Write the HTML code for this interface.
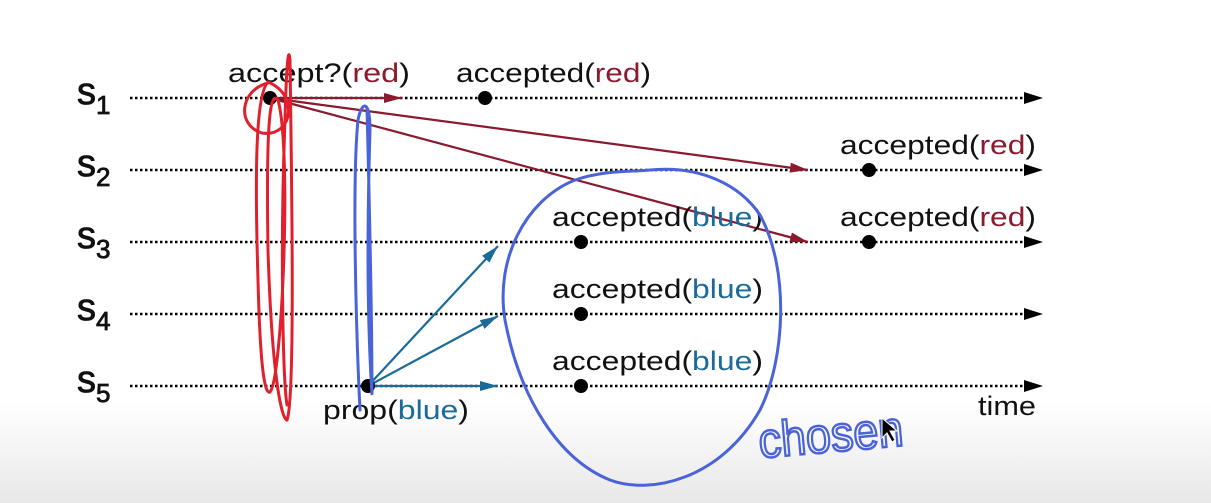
<!DOCTYPE html>
<html><head><style>
html,body{margin:0;padding:0;width:1211px;height:503px;overflow:hidden;background:#fff}
svg{display:block}
text{font-family:"Liberation Sans",sans-serif}
</style></head><body>
<svg width="1211" height="503" viewBox="0 0 1211 503" xmlns="http://www.w3.org/2000/svg">
<defs>
<linearGradient id="bg" x1="0" y1="0" x2="0" y2="1">
<stop offset="0" stop-color="#fff"/><stop offset="0.8" stop-color="#fff"/><stop offset="1" stop-color="#e8e8e8"/>
</linearGradient>
<marker id="ar" markerWidth="18" markerHeight="10" refX="18" refY="5" orient="auto" markerUnits="userSpaceOnUse"><path d="M0,0 L18,5 L0,10 z" fill="#8b1a2e"/></marker>
<marker id="au" markerWidth="18" markerHeight="10" refX="18" refY="5" orient="auto" markerUnits="userSpaceOnUse"><path d="M0,0 L18,5 L0,10 z" fill="#1b6b9a"/></marker>
</defs>
<rect width="1211" height="503" fill="url(#bg)"/>
<g stroke="#000" stroke-width="2.5" stroke-dasharray="2.5,2.5" fill="none">
<line x1="130" y1="98" x2="1030" y2="98"/>
<line x1="130" y1="170" x2="1030" y2="170"/>
<line x1="130" y1="242" x2="1030" y2="242"/>
<line x1="130" y1="314" x2="1030" y2="314"/>
<line x1="130" y1="386" x2="1030" y2="386"/>
</g>
<g fill="#000">
<path d="M1024,92 L1043,98 L1024,104z"/><path d="M1024,164 L1043,170 L1024,176z"/><path d="M1024,236 L1043,242 L1024,248z"/><path d="M1024,308 L1043,314 L1024,320z"/><path d="M1024,380 L1043,386 L1024,392z"/>
</g>
<g font-size="38" fill="#111" stroke="#111" stroke-width="0.8">
<text x="77" y="104">s<tspan font-size="26" dy="10">1</tspan></text>
<text x="77" y="176">s<tspan font-size="26" dy="10">2</tspan></text>
<text x="77" y="248">s<tspan font-size="26" dy="10">3</tspan></text>
<text x="77" y="320">s<tspan font-size="26" dy="10">4</tspan></text>
<text x="77" y="392">s<tspan font-size="26" dy="10">5</tspan></text>
</g>
<g stroke="#8b1a2e" stroke-width="2.2" fill="none">
<line x1="270" y1="98" x2="402" y2="98" marker-end="url(#ar)"/>
<line x1="270" y1="98" x2="808" y2="170" marker-end="url(#ar)"/>
<line x1="270" y1="98" x2="808" y2="242" marker-end="url(#ar)"/>
</g>
<g stroke="#1b6b9a" stroke-width="2.2" fill="none">
<line x1="368" y1="386" x2="498" y2="246" marker-end="url(#au)"/>
<line x1="368" y1="386" x2="498" y2="316" marker-end="url(#au)"/>
<line x1="368" y1="386" x2="498" y2="386" marker-end="url(#au)"/>
</g>
<g fill="#000">
<circle cx="270" cy="98" r="7"/><circle cx="485" cy="98" r="7"/><circle cx="869" cy="170" r="7"/><circle cx="869" cy="242" r="7"/>
<circle cx="581" cy="242" r="7"/><circle cx="581" cy="314" r="7"/><circle cx="581" cy="386" r="7"/><circle cx="368" cy="386" r="7"/>
</g>
<g font-size="27" fill="#111" lengthAdjust="spacingAndGlyphs">
<text x="228" y="82" textLength="182" lengthAdjust="spacingAndGlyphs">accept?(<tspan fill="#8b1a2e">red</tspan>)</text>
<text x="456" y="82" textLength="195" lengthAdjust="spacingAndGlyphs">accepted(<tspan fill="#8b1a2e">red</tspan>)</text>
<text x="840" y="154" textLength="196" lengthAdjust="spacingAndGlyphs">accepted(<tspan fill="#8b1a2e">red</tspan>)</text>
<text x="840" y="226" textLength="196" lengthAdjust="spacingAndGlyphs">accepted(<tspan fill="#8b1a2e">red</tspan>)</text>
<text x="552" y="226" textLength="211" lengthAdjust="spacingAndGlyphs">accepted(<tspan fill="#1b6b9a">blue</tspan>)</text>
<text x="552" y="298" textLength="211" lengthAdjust="spacingAndGlyphs">accepted(<tspan fill="#1b6b9a">blue</tspan>)</text>
<text x="552" y="370" textLength="211" lengthAdjust="spacingAndGlyphs">accepted(<tspan fill="#1b6b9a">blue</tspan>)</text>
<text x="323" y="419" textLength="146" lengthAdjust="spacingAndGlyphs">prop(<tspan fill="#1b6b9a">blue</tspan>)</text>
<text x="978" y="415" textLength="58" lengthAdjust="spacingAndGlyphs">time</text>
</g>
<g stroke="#e0202c" stroke-width="3" fill="none" stroke-linecap="round">
<path d="M268,83 C240,90 236,125 262,133 C292,138 300,95 268,82 C255,95 255,180 258,280 C260,360 264,395 270,392 C282,380 292,150 278,100 C270,90 266,120 268,250 C272,380 282,420 287,420 C295,400 292,200 290,60 C288,40 286,80 285,120 C280,250 283,380 287,405"/>
</g>
<g stroke="#4a63d8" stroke-width="3" fill="none" stroke-linecap="round">
<path d="M360,410 C356,330 352,180 358,120 C362,100 370,100 370,130 C368,200 366,300 372,395 C372,300 368,150 367,108"/>
<path d="M650,170 C700,165 740,185 760,215 C790,270 785,360 760,410 C720,480 650,495 610,480 C560,460 520,400 505,320 C495,260 525,200 575,180 C605,170 630,172 650,170"/>
</g>
<text x="760" y="458" font-size="50" fill="none" stroke="#4a63d8" stroke-width="2.5" font-family="'DejaVu Sans',sans-serif" textLength="145" lengthAdjust="spacingAndGlyphs" transform="rotate(-5 760 458)">chosen</text>
<path d="M882,418 L882,438 L887,433 L892,442 L895,440 L890,431 L897,431 z" fill="#000" stroke="#fff" stroke-width="1"/>
</svg>
</body></html>
